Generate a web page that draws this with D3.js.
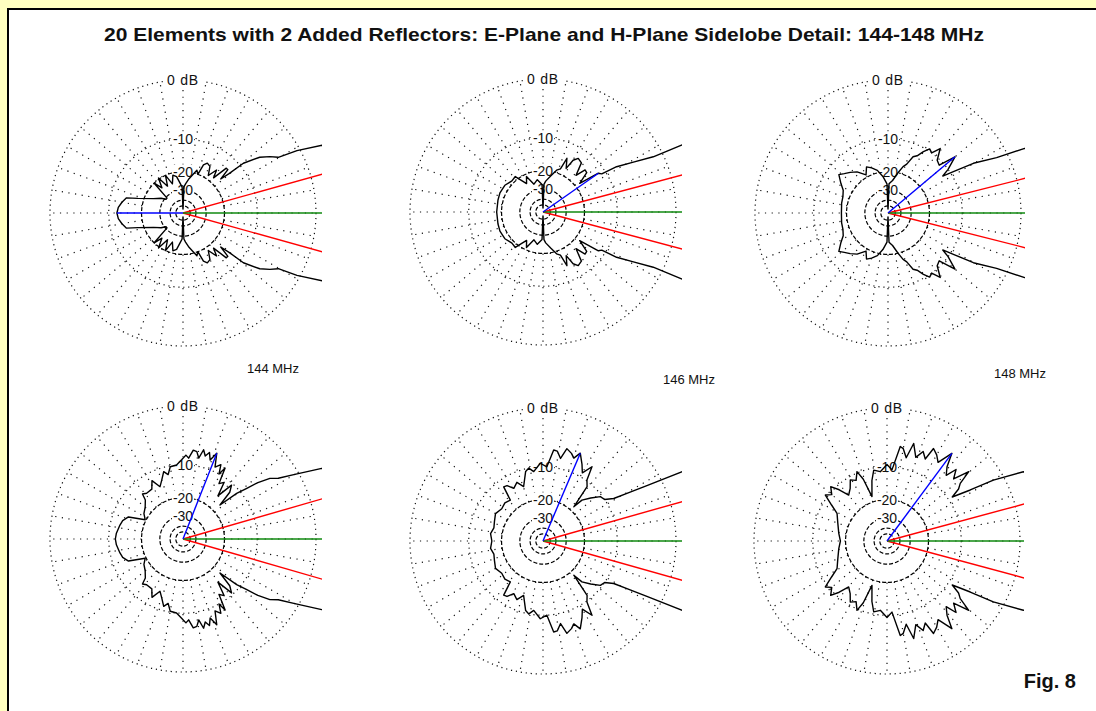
<!DOCTYPE html>
<html lang="en">
<head>
<meta charset="UTF-8">
<title>20 Elements with 2 Added Reflectors: Sidelobe Detail</title>
<script src="https://d3js.org/d3.v7.min.js"></script>
<style>
  html, body { margin: 0; padding: 0; background: #FFFFC0; }
  svg { display: block; }
  text { font-family: "Liberation Sans", Arial, sans-serif; fill: #111; }
</style>
</head>
<body>
<div id="chart"></div>
<script>
// half patterns (mirrored about boresight): angle in degrees from forward, level in dB
const angE144 = [0, 10, 20, 26, 28.7, 30.3, 33, 36, 39.5, 40.5, 42, 44, 46, 49, 52, 56, 60, 64, 67, 69, 72, 76, 80, 85, 88, 89.5, 90, 90.5, 92, 95, 100, 105, 110, 115, 120, 125, 130, 134, 137, 141, 146, 154, 162, 165, 170, 175, 180];
const dbE144  = [9, 8, 5, 2.6, -0.4, -3.2, -4.3, -5.8, -9.1, -13.5, -16.5, -13, -13, -18, -15.3, -18.5, -15.5, -15, -16, -20, -18.6, -21, -23, -26, -28, -60, -60, -60, -28, -26, -22, -21, -25, -20, -25, -19.5, -24, -20, -31, -31, -27.7, -24, -17.7, -14.1, -13.1, -12.3, -12];

const angE146 = [0, 10, 20, 25.8, 26.6, 29, 31.6, 33, 35, 38, 42, 45, 48, 52, 56.7, 59.8, 62, 66, 68, 72, 78, 85, 88, 89.5, 90, 90.5, 92, 100, 108, 115, 120, 128, 135, 145, 156, 165, 180];
const dbE146  = [9, 8, 5, 2.5, -1.3, -4.5, -7.4, -11, -11.6, -18, -14, -13.8, -17, -13, -12.5, -13.7, -17, -14, -18, -19, -22, -25, -27, -60, -60, -60, -27, -24, -26, -21, -24, -18.6, -19, -18, -17.8, -18, -18.1];

const angE148 = [0, 10, 20, 25.3, 27, 30.2, 32.3, 34, 36, 40, 43, 47, 51, 54, 57, 60, 63, 66, 69, 72, 76, 82, 88, 89.5, 90, 90.5, 92, 98, 104, 110, 115, 120, 127, 133, 138, 142, 148, 153, 160, 168, 180];
const dbE148  = [9, 8, 5, 2.2, -1.5, -5.1, -9.3, -12, -10, -7.2, -11, -10.5, -8.1, -10, -9.5, -10.8, -12.5, -13.2, -16, -17.2, -20, -24, -26, -60, -60, -60, -26, -22, -19, -17.5, -16.5, -19, -16.3, -15, -14, -13, -15, -16.7, -17.5, -17.7, -18];

const angH144 = [0, 10, 20, 27, 30, 32.5, 34.9, 37, 38.5, 40.4, 42.6, 45, 48, 51, 54, 57, 59.3, 61, 63, 66, 68.5, 71, 73, 75, 77, 79, 81, 83.4, 86, 88, 91, 95, 100, 103, 106, 110, 113.7, 118, 122, 128.5, 132, 134, 140, 147, 153, 158, 163, 167.5, 175, 180];
const dbH144  = [9, 8, 5, 2.7, -0.5, -2.8, -3.9, -6, -8.4, -10.9, -16.7, -12, -10.4, -15, -11, -12, -8.2, -10, -8, -9, -6.3, -8, -6.6, -7.5, -6.4, -8.2, -7, -6.8, -8.5, -7.9, -8.9, -10, -10.2, -12, -11, -13, -14.5, -12, -14, -14.1, -13.5, -15.4, -17, -18, -19.6, -14, -12.8, -12.4, -11.8, -11.6];

const angH146 = [0, 10, 20, 26.5, 28, 29.6, 31, 34, 37.7, 42, 46.4, 48, 51, 54.2, 56.6, 60, 63, 67, 69.6, 72, 75.5, 78, 81, 83.3, 87, 92, 97.6, 101, 104, 109.6, 114, 119, 123, 126, 128.6, 135, 142, 150, 158, 165, 172, 180];
const dbH146  = [9, 8, 5, 2.7, -2, -5.5, -8.2, -10, -10.4, -12.5, -14.7, -18.2, -11, -9.8, -6.9, -9, -7.5, -5.7, -7, -6.3, -5.7, -7.8, -6.5, -6.4, -10, -9.2, -11, -10, -10.6, -14.3, -12.5, -13.6, -12, -11.8, -16, -15.5, -16, -15.2, -16, -16.5, -15.8, -16.4];

const angH148 = [0, 10, 20, 26.9, 29.8, 31.5, 34, 36, 38.2, 40.3, 43, 46, 48, 51, 53.5, 57, 60, 63.3, 65, 68, 71, 74.7, 77, 80, 82, 86, 90, 95.5, 100.6, 104, 108.7, 111, 113.4, 117, 121, 125, 129.8, 133, 136, 140, 143.3, 147, 151, 160, 171, 180];
const dbH148  = [9, 8, 5, 2.4, -1.4, -5.3, -9, -7, -6.1, -3.7, -6.5, -5, -7, -5.7, -3.4, -6, -5, -4.3, -6.6, -5.5, -7, -4.7, -7.6, -6, -5.7, -10.7, -9.5, -11.1, -10.5, -13, -17.9, -12, -9.7, -11.5, -10.7, -12.5, -13.7, -11, -9.1, -10.5, -9.4, -12, -14.5, -16, -17.2, -18];

// largest sidelobe (blue) and half beamwidth (red), one per panel
const lobeAng = [180, 35, 40, 68.5, 67, 53.5];
const lobeDb  = [-12, -11.6, -7.2, -6.3, -5.7, -3.4];
const halfBeam = [15.6, 14.9, 14.2, 16.1, 15.8, 15.1];

const ringDb = [0, -10, -20, -30];
const ringText = ["0 dB", "-10", "-20", "-30"];
const freqText = ["144 MHz", "146 MHz", "148 MHz"];

const patterns = [
  [angE144, dbE144], [angE146, dbE146], [angE148, dbE148],
  [angH144, dbH144], [angH146, dbH146], [angH148, dbH148]
];

// layout
const W = 1096, H = 711, R = 133;
const centers = [[183, 213], [543, 212], [888, 213], [183, 539], [543, 541], [887, 541]];
const clipRight = [139, 139, 137, 139, 139, 137];
const freqPos = [[273, 373], [689, 384], [1020, 378]];

const svg = d3.select("#chart").append("svg").attr("width", W).attr("height", H);

svg.append("rect").attr("width", W).attr("height", H).attr("fill", "#FFFFC0");
svg.append("rect").attr("x", 8).attr("y", 9).attr("width", W + 20).attr("height", H + 20)
  .attr("fill", "#fff").attr("stroke", "#000").attr("stroke-width", 2);

svg.append("text")
  .attr("x", 104).attr("y", 41)
  .attr("textLength", 880).attr("lengthAdjust", "spacingAndGlyphs")
  .style("font-size", "19px").style("font-weight", "bold")
  .text("20 Elements with 2 Added Reflectors:  E-Plane and H-Plane Sidelobe Detail:  144-148 MHz");

svg.append("text").attr("x", 1076).attr("y", 688).attr("text-anchor", "end")
  .style("font-size", "20px").style("font-weight", "bold").text("Fig. 8");

svg.selectAll(".freq").data(freqText).enter().append("text")
  .attr("class", "freq")
  .attr("x", (d, i) => freqPos[i][0]).attr("y", (d, i) => freqPos[i][1])
  .attr("text-anchor", "middle").style("font-size", "13px").text(d => d);

// ARRL-style log radial scale: r ~ power^0.2531 (0.89 per 2 dB)
const rPow = d3.scalePow().exponent(0.2531).domain([0, 1]).range([0, R]);
const r = db => rPow(Math.pow(10, db / 10));
const rad = deg => (90 - deg) * Math.PI / 180; // d3 radial angle from CCW degrees

const spokes = d3.range(0, 360, 10);

patterns.forEach(([ang, db], i) => {
  const [cx, cy] = centers[i];
  const g = svg.append("g").attr("transform", `translate(${cx},${cy})`);

  const clipId = "clip" + i;
  svg.append("clipPath").attr("id", clipId).append("rect")
    .attr("x", -170).attr("y", -170).attr("width", 170 + clipRight[i]).attr("height", 340);

  // dotted grid
  g.selectAll(".dotring").data([0, -10]).enter().append("circle")
    .attr("r", d => r(d)).attr("fill", "none")
    .attr("stroke", "#111").attr("stroke-width", 1.2).attr("stroke-dasharray", "1.2 3.8");

  g.selectAll(".spoke").data(spokes).enter().append("line")
    .attr("x1", d => r(-20) * Math.cos(d * Math.PI / 180))
    .attr("y1", d => -r(-20) * Math.sin(d * Math.PI / 180))
    .attr("x2", d => R * Math.cos(d * Math.PI / 180))
    .attr("y2", d => -R * Math.sin(d * Math.PI / 180))
    .attr("stroke", "#111").attr("stroke-width", 1.2).attr("stroke-dasharray", "1.2 5.5");

  g.selectAll(".dashring").data([-20, -30, -40, -50]).enter().append("circle")
    .attr("r", d => r(d)).attr("fill", "none")
    .attr("stroke", "#000").attr("stroke-width", 1.2).attr("stroke-dasharray", "4 2");

  // ring labels with knockout
  const lab = g.selectAll(".ringlab").data(ringDb).enter().append("g")
    .attr("transform", d => `translate(0,${-r(d)})`);
  lab.append("rect")
    .attr("x", (d, k) => k === 0 ? -20 : -11).attr("y", -7)
    .attr("width", (d, k) => k === 0 ? 40 : 22).attr("height", 13).attr("fill", "#fff");
  lab.append("text").attr("text-anchor", "middle").attr("dy", "0.36em")
    .style("font-size", "14px").style("letter-spacing", (d, k) => k === 0 ? "0.8px" : "0px")
    .text((d, k) => ringText[k]);

  const cg = g.append("g").attr("clip-path", `url(#${clipId})`);
  const far = 400;

  // beamwidth and boresight lines
  cg.selectAll(".beam").data([halfBeam[i], -halfBeam[i]]).enter().append("line")
    .attr("x2", d => far * Math.cos(d * Math.PI / 180))
    .attr("y2", d => -far * Math.sin(d * Math.PI / 180))
    .attr("stroke", "#ff0000").attr("stroke-width", 1.4);
  cg.append("line").attr("x2", far).attr("stroke", "#108a10").attr("stroke-width", 1.6);

  // full pattern: upper half then mirrored lower half
  const pts = ang.map((a, k) => [a, db[k]]);
  const full = pts.concat(pts.slice(0, -1).reverse().map(([a, d]) => [360 - a, d]));
  const line = d3.lineRadial().angle(d => rad(d[0])).radius(d => r(d[1]));
  cg.append("path").attr("d", line(full)).attr("fill", "none")
    .attr("stroke", "#000").attr("stroke-width", 1.4).attr("stroke-linejoin", "round");

  // biggest sidelobe marker
  cg.append("line")
    .attr("x2", r(lobeDb[i]) * Math.cos(lobeAng[i] * Math.PI / 180))
    .attr("y2", -r(lobeDb[i]) * Math.sin(lobeAng[i] * Math.PI / 180))
    .attr("stroke", "#0000ff").attr("stroke-width", 1.4);
});
</script>
</body>
</html>
